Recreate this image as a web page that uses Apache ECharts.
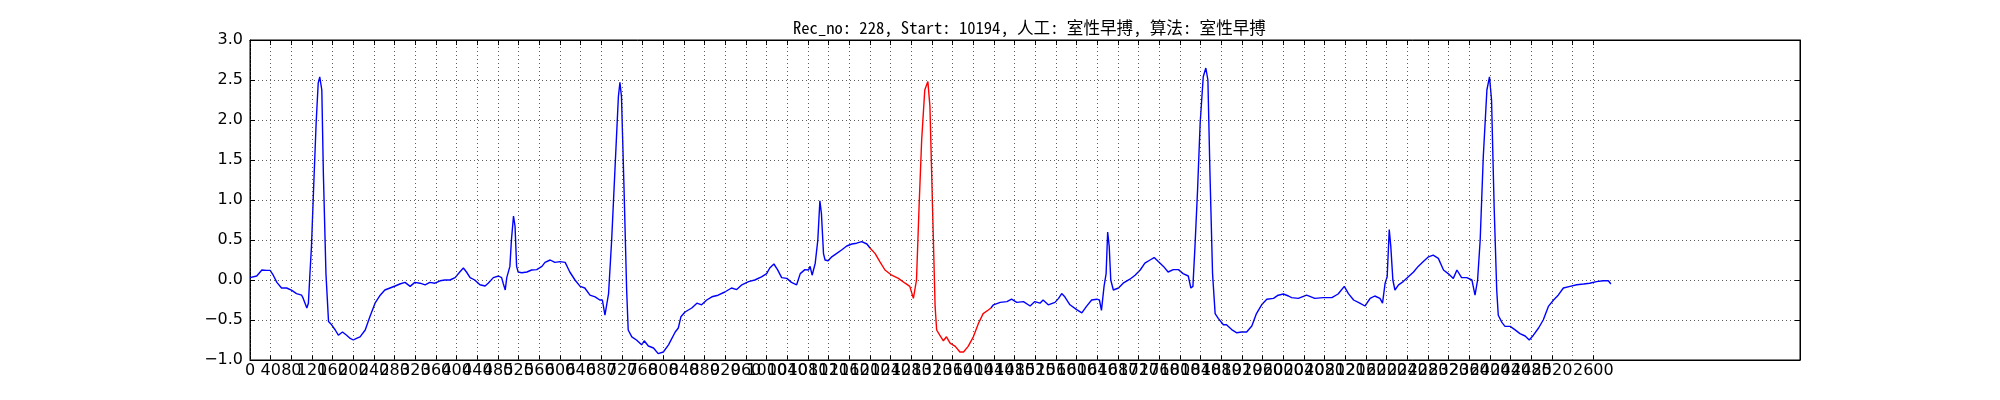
<!DOCTYPE html>
<html>
<head>
<meta charset="utf-8">
<title>ECG</title>
<script src="https://cdn.jsdelivr.net/npm/echarts@6/dist/echarts.min.js"></script>
<style>
    html, body { margin: 0; padding: 0; background: #fff; }
    #ecgChart { width: 2000px; height: 400px; }
</style>
</head>
<body>
<div id="ecgChart"></div>
<script>
// 标题
var titleText = 'Rec_no: 228, Start: 10194, 人工: 室性早搏, 算法: 室性早搏';

// 采样点序号（x）
var sampleIdx = [
    0, 13, 23, 32, 39, 45, 52, 61, 71, 81, 90, 100, 103, 110, 113, 116, 119, 123, 128, 132,
    135, 139, 142, 147, 152, 158, 165, 171, 179, 187, 194, 200, 206, 213, 223, 232, 242, 252, 261, 271,
    281, 290, 300, 310, 319, 329, 339, 348, 358, 368, 377, 387, 397, 406, 413, 419, 426, 435, 445, 455,
    461, 471, 481, 487, 490, 494, 497, 503, 506, 510, 513, 516, 519, 526, 536, 545, 555, 565, 571, 581,
    590, 600, 610, 619, 629, 639, 648, 658, 668, 677, 682, 687, 694, 700, 706, 713, 716, 719, 724, 729,
    732, 739, 748, 758, 763, 771, 781, 790, 800, 810, 823, 829, 834, 842, 855, 865, 874, 884, 894, 906,
    919, 932, 942, 952, 965, 977, 990, 1000, 1006, 1014, 1021, 1029, 1039, 1048, 1058, 1065, 1074, 1081, 1084, 1088,
    1094, 1099, 1103, 1106, 1110, 1113, 1119, 1126, 1135, 1145, 1155, 1165, 1174, 1184, 1194, 1200, 1210, 1219, 1229, 1242,
    1255, 1268, 1277, 1284, 1287, 1290, 1295, 1300, 1306, 1312, 1316, 1321, 1326, 1329, 1335, 1342, 1348, 1355, 1365, 1374,
    1381, 1390, 1400, 1410, 1419, 1429, 1434, 1439, 1452, 1465, 1474, 1484, 1497, 1510, 1519, 1529, 1535, 1545, 1558, 1565,
    1571, 1577, 1587, 1600, 1610, 1619, 1629, 1639, 1644, 1648, 1653, 1657, 1660, 1663, 1666, 1671, 1681, 1690, 1703, 1713,
    1723, 1732, 1742, 1750, 1758, 1768, 1777, 1787, 1797, 1806, 1816, 1821, 1825, 1829, 1834, 1839, 1845, 1850, 1854, 1858,
    1863, 1868, 1874, 1884, 1890, 1900, 1910, 1919, 1929, 1939, 1948, 1958, 1968, 1981, 1990, 2000, 2010, 2016, 2029, 2045,
    2061, 2077, 2094, 2106, 2118, 2126, 2136, 2148, 2158, 2168, 2177, 2187, 2192, 2197, 2201, 2205, 2208, 2212, 2216, 2223,
    2232, 2242, 2252, 2261, 2271, 2281, 2290, 2300, 2310, 2319, 2329, 2336, 2345, 2355, 2365, 2371, 2376, 2381, 2387, 2394,
    2399, 2403, 2408, 2413, 2416, 2423, 2429, 2439, 2448, 2458, 2468, 2476, 2484, 2494, 2503, 2513, 2523, 2532, 2542, 2555,
    2568, 2581, 2593, 2606, 2619, 2629, 2634
];

// 心电幅值（y）
var ecgValues = [
    0.03, 0.05, 0.125, 0.12, 0.12, 0.06, -0.03, -0.10, -0.10, -0.13, -0.17, -0.19, -0.23, -0.35, -0.29, 0.08, 0.42, 1.125, 1.96, 2.46,
    2.54, 2.375, 1.33, 0.08, -0.52, -0.56, -0.625, -0.69, -0.65, -0.69, -0.73, -0.75, -0.73, -0.71, -0.625, -0.46, -0.29, -0.19, -0.125, -0.10,
    -0.075, -0.05, -0.03, -0.08, -0.03, -0.04, -0.06, -0.03, -0.04, -0.01, 0.0, 0.0, 0.03, 0.10, 0.15, 0.10, 0.03, 0.0, -0.06, -0.075,
    -0.04, 0.03, 0.05, 0.03, -0.04, -0.125, 0.03, 0.17, 0.5, 0.80, 0.67, 0.17, 0.10, 0.09, 0.10, 0.125, 0.13, 0.17, 0.22, 0.25,
    0.22, 0.23, 0.22, 0.10, 0.0, -0.08, -0.10, -0.19, -0.21, -0.25, -0.25, -0.44, -0.17, 0.5, 1.33, 2.29, 2.47, 2.29, 1.125, -0.125,
    -0.625, -0.71, -0.75, -0.81, -0.76, -0.825, -0.85, -0.92, -0.90, -0.81, -0.65, -0.60, -0.46, -0.40, -0.35, -0.29, -0.31, -0.25, -0.21, -0.19,
    -0.15, -0.10, -0.12, -0.06, -0.02, 0.0, 0.04, 0.08, 0.15, 0.20, 0.13, 0.03, 0.02, -0.03, -0.06, 0.08, 0.13, 0.125, 0.17, 0.06,
    0.21, 0.5, 0.99, 0.83, 0.33, 0.25, 0.24, 0.29, 0.33, 0.375, 0.425, 0.45, 0.46, 0.48, 0.45, 0.40, 0.33, 0.23, 0.125, 0.06,
    0.02, -0.04, -0.08, -0.23, -0.23, 0.0, 0.92, 1.75, 2.375, 2.48, 2.17, 0.92, -0.33, -0.625, -0.69, -0.76, -0.71, -0.79, -0.83, -0.90,
    -0.90, -0.83, -0.71, -0.54, -0.42, -0.375, -0.35, -0.31, -0.28, -0.27, -0.24, -0.28, -0.27, -0.325, -0.27, -0.29, -0.25, -0.31, -0.28, -0.23,
    -0.17, -0.21, -0.31, -0.37, -0.41, -0.33, -0.25, -0.24, -0.25, -0.38, -0.08, 0.08, 0.60, 0.42, 0.0, -0.125, -0.10, -0.04, 0.01, 0.06,
    0.125, 0.21, 0.25, 0.28, 0.23, 0.17, 0.10, 0.13, 0.13, 0.08, 0.05, -0.10, -0.08, 0.42, 1.125, 1.96, 2.54, 2.65, 2.5, 1.33,
    0.08, -0.42, -0.48, -0.56, -0.56, -0.62, -0.66, -0.65, -0.65, -0.575, -0.42, -0.31, -0.24, -0.23, -0.19, -0.175, -0.20, -0.22, -0.23, -0.19,
    -0.23, -0.22, -0.22, -0.175, -0.08, -0.17, -0.25, -0.29, -0.325, -0.23, -0.20, -0.23, -0.29, -0.04, 0.04, 0.63, 0.42, 0.0, -0.125, -0.06,
    -0.02, 0.04, 0.10, 0.17, 0.23, 0.29, 0.31, 0.27, 0.125, 0.08, 0.02, 0.125, 0.03, 0.03, 0.0, -0.19, 0.0, 0.5, 1.54, 2.375,
    2.54, 2.25, 0.92, -0.125, -0.44, -0.53, -0.58, -0.58, -0.62, -0.67, -0.70, -0.75, -0.69, -0.60, -0.50, -0.33, -0.25, -0.19, -0.10, -0.08,
    -0.06, -0.05, -0.04, -0.02, -0.01, -0.01, -0.05
];

// 红色标注的心搏范围（采样点）
var redStart = 1200;
var redEnd = 1434;

// 刻度
var xTicks = [
    0, 40, 80, 120, 160, 200, 240, 280, 320, 360, 400, 440, 480, 520, 560, 600, 640, 680, 720, 760,
    800, 840, 880, 920, 960, 1000, 1040, 1080, 1120, 1160, 1200, 1240, 1280, 1320, 1360, 1400, 1440, 1480, 1520, 1560,
    1600, 1640, 1680, 1720, 1760, 1800, 1840, 1880, 1920, 1960, 2000, 2040, 2080, 2120, 2160, 2200, 2240, 2280, 2320, 2360,
    2400, 2440, 2480, 2520, 2560, 2600
];
var xMax = 3000;
var yMin = -1, yMax = 3, yStep = 0.5;

// 蓝色：红色心搏以外的部分（中间断开）；红色：标注的心搏
var blueData = [], redData = [];
var gapAdded = false;
for (var i = 0; i < sampleIdx.length; i++) {
    var pt = [sampleIdx[i], ecgValues[i]];
    if (sampleIdx[i] >= redStart && sampleIdx[i] <= redEnd) {
        redData.push(pt);
    }
    if (sampleIdx[i] <= redStart || sampleIdx[i] >= redEnd) {
        if (sampleIdx[i] >= redEnd && !gapAdded) {
            blueData.push([(redStart + redEnd) / 2, null]);
            gapAdded = true;
        }
        blueData.push(pt);
    }
}

var tickFont = { fontFamily: 'DejaVu Sans', fontSize: 16, color: '#000' };
var gridDots = { color: '#333', width: 0.8, type: [1, 3] };

var myChart = echarts.init(document.getElementById('ecgChart'), null, { renderer: 'canvas' });
var option = {
    animation: false,
    backgroundColor: '#fff',
    title: {
        text: titleText,
        left: 788,
        top: 14,
        textStyle: {
            fontFamily: "'Noto Sans Mono CJK SC', 'Liberation Mono', 'Noto Sans CJK SC', monospace",
            fontSize: 16.6,
            fontWeight: 'normal',
            color: '#000'
        }
    },
    grid: {
        left: 250, right: 200, top: 40, bottom: 40,
        show: true, borderColor: '#000', borderWidth: 1
    },
    xAxis: [{
        type: 'value', min: 0, max: xMax, position: 'bottom',
        axisLine: { show: true, onZero: false, lineStyle: { color: '#000', width: 1 } },
        axisTick: { show: true, inside: true, length: 5, customValues: xTicks, lineStyle: { color: '#000' } },
        axisLabel: Object.assign({
            margin: 3, customValues: xTicks,
            showMinLabel: true, showMaxLabel: true, hideOverlap: false,
            formatter: function (v) { return String(v); }   // 不要千分位
        }, tickFont),
        splitLine: { show: false }
    }, {
        type: 'value', min: 0, max: xMax, position: 'top',
        axisLine: { show: true, onZero: false, lineStyle: { color: '#000', width: 1 } },
        axisTick: { show: true, inside: true, length: 5, customValues: xTicks, lineStyle: { color: '#000' } },
        axisLabel: { show: false },
        splitLine: { show: false }
    }],
    yAxis: [{
        type: 'value', min: yMin, max: yMax, interval: yStep, position: 'left',
        axisLine: { show: true, onZero: false, lineStyle: { color: '#000', width: 1 } },
        axisTick: { show: true, inside: true, length: 5, lineStyle: { color: '#000' } },
        axisLabel: Object.assign({
            margin: 7,
            showMinLabel: true, showMaxLabel: true,
            formatter: function (v) { return v.toFixed(1).replace('-', '\u2212'); }
        }, tickFont),
        splitLine: { show: true, lineStyle: gridDots }
    }, {
        type: 'value', min: yMin, max: yMax, interval: yStep, position: 'right',
        axisLine: { show: true, onZero: false, lineStyle: { color: '#000', width: 1 } },
        axisTick: { show: true, inside: true, length: 5, lineStyle: { color: '#000' } },
        axisLabel: { show: false },
        splitLine: { show: false }
    }],
    series: [{
        name: 'ecg',
        type: 'line',
        data: blueData,
        connectNulls: false,
        showSymbol: false,
        lineStyle: { color: '#0000ff', width: 1.4 },
        z: 3,
        // 竖向网格线只画到最后一个刻度
        markLine: {
            silent: true,
            symbol: 'none',
            label: { show: false },
            lineStyle: gridDots,
            animation: false,
            data: xTicks.map(function (v) { return { xAxis: v }; })
        }
    }, {
        name: 'beat',
        type: 'line',
        data: redData,
        showSymbol: false,
        lineStyle: { color: '#ff0000', width: 1.4 },
        z: 4
    }]
};
myChart.setOption(option);
</script>
</body>
</html>
